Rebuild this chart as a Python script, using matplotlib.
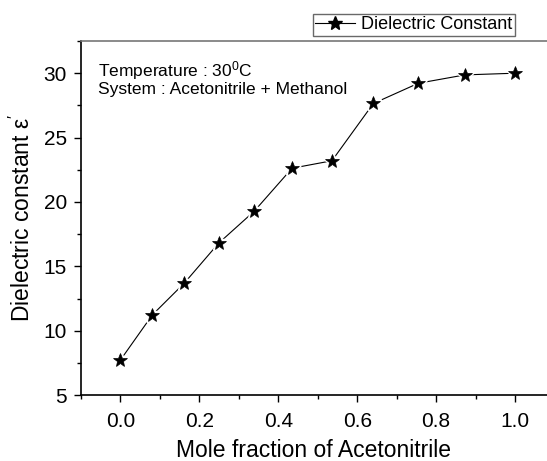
import matplotlib
matplotlib.use("Agg")
import matplotlib.pyplot as plt
from matplotlib.ticker import MultipleLocator
from matplotlib.lines import Line2D

plt.rcParams['font.family'] = ['Liberation Sans', 'DejaVu Sans']
plt.rcParams['mathtext.fontset'] = 'custom'
plt.rcParams['mathtext.rm'] = 'Liberation Sans'
plt.rcParams['mathtext.it'] = 'Liberation Sans'

mole_fraction = [0.0, 0.081, 0.162, 0.249, 0.339, 0.435, 0.536, 0.641, 0.755, 0.873, 1.0]
dielectric = [7.72, 11.23, 13.7, 16.8, 19.28, 22.62, 23.2, 27.65, 29.22, 29.87, 30.0]
x_ticks = [0.0, 0.2, 0.4, 0.6, 0.8, 1.0]
y_ticks = [5, 10, 15, 20, 25, 30]

fig = plt.figure(figsize=(5.47, 4.61), dpi=100)
ax = fig.add_axes([0.148, 0.143, 0.852, 0.768])

ax.plot(mole_fraction, dielectric, color='black', lw=0.8, zorder=2)
ax.plot(mole_fraction, dielectric, ls='none', marker='*', ms=12, mfc='white', mec='white', mew=2.5, zorder=3)
ax.plot(mole_fraction, dielectric, ls='none', marker='*', ms=10.5, mfc='black', mec='black', mew=0.5, zorder=4)

ax.set_xlim(-0.1, 1.081)
ax.set_ylim(5, 32.5)
ax.set_xticks(x_ticks)
ax.set_xticklabels([f"{v:.1f}" for v in x_ticks])
ax.set_yticks(y_ticks)
ax.xaxis.set_minor_locator(MultipleLocator(0.1))
ax.yaxis.set_minor_locator(MultipleLocator(2.5))
ax.tick_params(which='major', direction='out', length=5, width=1, labelsize=15, pad=5)
ax.tick_params(axis='x', which='major', pad=7)
ax.tick_params(which='minor', direction='out', length=3, width=1)
ax.spines['right'].set_visible(False)
ax.spines['top'].set_color('#777777')
ax.spines['top'].set_linewidth(1.2)
ax.spines['left'].set_linewidth(1.2)
ax.spines['bottom'].set_linewidth(1.2)

ax.set_xlabel('Mole fraction of Acetonitrile', fontsize=16.5, labelpad=6)
ax.set_ylabel("Dielectric constant ε$^{\\prime}$", fontsize=16.5, labelpad=6)

ax.text(0.036, 0.900, 'Temperature : 30$^{0}$C', transform=ax.transAxes, fontsize=12.5, va='baseline', ha='left')
ax.text(0.036, 0.851, 'System : Acetonitrile + Methanol', transform=ax.transAxes, fontsize=12.5, va='baseline', ha='left')

handle = Line2D([], [], color='black', lw=0.8, marker='*', ms=10, mfc='black', mec='black')
leg = fig.legend([handle], ['Dielectric Constant'], loc='upper left',
                 bbox_to_anchor=(312.7/547, 1 - 13.5/461), fontsize=13,
                 frameon=True, fancybox=False, borderpad=0.15, handlelength=2.2,
                 handletextpad=0.35, borderaxespad=0)
leg.get_frame().set_edgecolor('#444444')
leg.get_frame().set_linewidth(1.0)

fig.savefig('out.png', dpi=100)
